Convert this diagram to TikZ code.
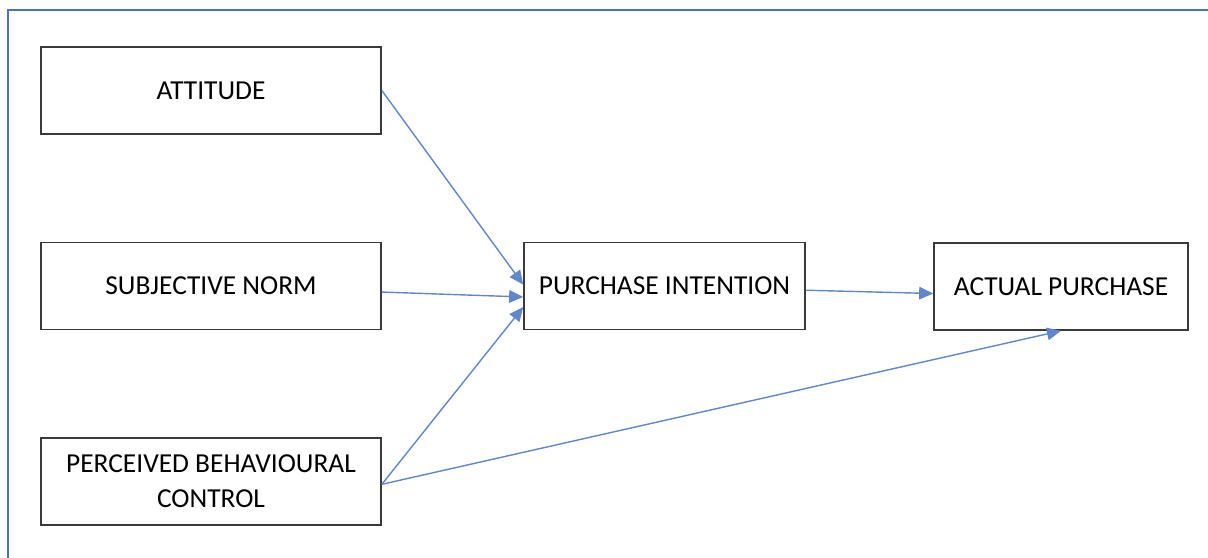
\documentclass[tikz,border=0pt]{standalone}
\usepackage{fontspec}
\setmainfont{Carlito}
\usepackage{tikz}
\usetikzlibrary{arrows.meta}

\definecolor{framebl}{HTML}{4A72C8}
\definecolor{arrbl}{HTML}{4472C4}
\definecolor{boxgr}{HTML}{3A3A3A}

\tikzset{
  factor/.style={draw=boxgr,line width=1.1pt,minimum width=8.5cm,minimum height=2.175cm,
    align=center,inner sep=0pt,font=\fontsize{19.5}{25}\selectfont},
  path/.style={draw=arrbl!85,line width=1pt,-{Triangle[length=10pt,width=9pt]}}
}

\begin{document}
\begin{tikzpicture}[x=0.025cm,y=-0.025cm]
    \useasboundingbox (0,0) rectangle (1208,558);
 %   frame
    \draw[framebl,line width=1.4pt] (8,558) -- (8,10) -- (1208,10);

    \node[factor] (att) at (211,90.5) {\raisebox{-1.5pt}{ATTITUDE}};
    \node[factor] (sn) at (211,286) {\raisebox{-1.5pt}{SUBJECTIVE NORM}};
    \node[factor] (pbc) at (211,481.5) {\raisebox{-1.5pt}{PERCEIVED BEHAVIOURAL}\\\raisebox{-1.5pt}{CONTROL}};
    \node[factor,minimum width=7.025cm] (pi) at (664.5,286) {\raisebox{-1.5pt}{PURCHASE INTENTION}};
    \node[factor,minimum width=6.35cm] (ap) at (1061,286.5) {\raisebox{-1.5pt}{ACTUAL PURCHASE}};

    \draw[path] (att.east) -- ([yshift=1pt]pi.west);
    \draw[path] ([yshift=-4.3pt]sn.east) -- ([yshift=-7.8pt]pi.west);
    \draw[path] ([yshift=-2pt]pbc.east) -- ([yshift=-15pt]pi.west);
    \draw[path] ([yshift=-2pt]pbc.east) -- (ap.south);
    \draw[path] ([yshift=-3pt]pi.east) -- ([yshift=-5pt]ap.west);

\end{tikzpicture}
\end{document}
